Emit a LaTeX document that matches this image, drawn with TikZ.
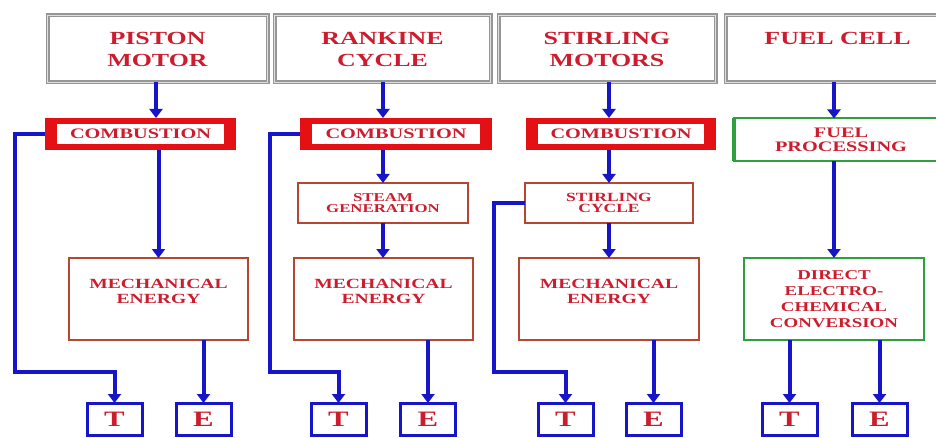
\documentclass[tikz,border=0pt]{standalone}
\usepackage{fontspec}
\setmainfont{Liberation Serif}[FakeStretch=1.4]
\usetikzlibrary{arrows.meta}
\definecolor{tred}{RGB}{205,28,45}
\definecolor{cred}{RGB}{228,16,20}
\definecolor{bred}{RGB}{180,70,50}
\definecolor{bblue}{RGB}{22,22,200}
\definecolor{ngreen}{RGB}{46,160,62}
\definecolor{gout}{RGB}{150,150,150}
\definecolor{gin}{RGB}{222,222,222}
\begin{document}
\begin{tikzpicture}[x=1pt,y=-1pt,
  every node/.style={inner sep=0pt, outer sep=0pt, align=center, text=tred},
  topbox/.style={draw=gout, double=gin, line width=1.2pt, double distance=1.6pt,
    minimum height=67pt, font=\bfseries\fontsize{18.5}{22}\selectfont},
  combbox/.style={fill=cred, minimum height=32pt,
    font=\bfseries\fontsize{14.5}{15}\selectfont,
    path picture={\fill[white] ([xshift=12pt,yshift=-6pt]path picture bounding box.north west)
      rectangle ([xshift=-12pt,yshift=6pt]path picture bounding box.south east);}},
  midbox/.style={draw=bred, line width=1.5pt, minimum height=40pt,
    font=\bfseries\fontsize{12}{11.5}\selectfont},
  mechbox/.style={draw=bred, line width=1.5pt, minimum width=179pt, minimum height=82pt,
    font=\bfseries\fontsize{14}{15}\selectfont},
  greenbox/.style={draw=ngreen, line width=2pt},
  tebox/.style={draw=bblue, line width=3pt, minimum width=55pt, minimum height=32pt,
    font=\bfseries\fontsize{22}{24}\selectfont},
  arr/.style={draw=bblue, line width=4pt, -{Triangle[width=13pt,length=9pt]}},
  lin/.style={draw=bblue, line width=4pt}
]
\clip (0,0) rectangle (936,438);
\fill[white] (0,0) rectangle (936,438);

% top boxes
\node[topbox, minimum width=220pt] (top1) at (157.5,49) {PISTON\\MOTOR};
\node[topbox, minimum width=216pt] (top2) at (382.5,49) {RANKINE\\CYCLE};
\node[topbox, minimum width=217pt] (top3) at (607,49) {STIRLING\\MOTORS};
\node[topbox, minimum width=224pt] (top4) at (837.5,49) {FUEL CELL\\\mbox{}};

% combustion boxes
\node[combbox, minimum width=191pt] (c1) at (140.5,134) {COMBUSTION};
\node[combbox, minimum width=192pt] (c2) at (396,134) {COMBUSTION};
\node[combbox, minimum width=190pt] (c3) at (621,134) {COMBUSTION};
\node[greenbox, minimum width=214pt, minimum height=43pt,
  font=\bfseries\fontsize{14.5}{13.5}\selectfont] (fp) at (841,140) {FUEL\\PROCESSING};
\draw[ngreen, line width=4pt] (fp.north west) -- (fp.south west);

% intermediate boxes
\node[midbox, minimum width=170pt] (sg) at (383,203) {STEAM\\GENERATION};
\node[midbox, minimum width=168pt, font=\bfseries\fontsize{12.5}{11.5}\selectfont] (sc) at (609,203) {STIRLING\\CYCLE};

% mechanical energy boxes
\node[mechbox] (m1) at (158.5,299) {MECHANICAL\\ENERGY\\\mbox{}};
\node[mechbox] (m2) at (383.5,299) {MECHANICAL\\ENERGY\\\mbox{}};
\node[mechbox, minimum width=180pt] (m3) at (609,299) {MECHANICAL\\ENERGY\\\mbox{}};
\node[greenbox, minimum width=180pt, minimum height=82pt,
  font=\bfseries\fontsize{13.5}{16}\selectfont] (d4) at (834,299) {DIRECT\\ELECTRO-\\CHEMICAL\\CONVERSION};

% T / E boxes
\node[tebox] (t1) at (114.5,419) {T};
\node[tebox] (e1) at (203.5,419) {E};
\node[tebox] (t2) at (338.5,419) {T};
\node[tebox] (e2) at (428,419) {E};
\node[tebox] (t3) at (565.5,419) {T};
\node[tebox] (e3) at (653.5,419) {E};
\node[tebox] (t4) at (789.5,419) {T};
\node[tebox] (e4) at (879.5,419) {E};

% arrows from top boxes
\coordinate (a1) at (156,0);
\coordinate (a2) at (383,0);
\coordinate (a3) at (609,0);
\coordinate (a4) at (834,0);
\draw[arr] (top1.south -| a1) -- (c1.north -| a1);
\draw[arr] (top2.south -| a2) -- (c2.north -| a2);
\draw[arr] (top3.south -| a3) -- (c3.north -| a3);
\draw[arr] (top4.south -| a4) -- (fp.north -| a4);

% column chains
\draw[arr] (c1.south -| m1.north) -- (m1.north);
\draw[arr] (c2.south -| sg.north) -- (sg.north);
\draw[arr] (sg.south) -- (m2.north -| sg.south);
\draw[arr] (c3.south -| sc.north) -- (sc.north);
\draw[arr] (sc.south) -- (m3.north -| sc.south);
\draw[arr] (fp.south -| d4.north) -- (d4.north);

% to E
\draw[arr] (m1.south -| e1.north) -- (e1.north);
\draw[arr] (m2.south -| e2.north) -- (e2.north);
\draw[arr] (m3.south -| e3.north) -- (e3.north);
\draw[arr] (d4.south -| e4.north) -- (e4.north);
\draw[arr] (d4.south -| t4.north) -- (t4.north);

% feedback lines to T
\coordinate (f1) at (15,372);
\coordinate (f2) at (270,372);
\coordinate (f3) at (494,372);
\draw[arr] (c1.west) -| (f1) -| (t1.north);
\draw[arr] (c2.west) -| (f2) -| (t2.north);
\draw[arr] (sc.west) -| (f3) -| (t3.north);
\end{tikzpicture}
\end{document}
